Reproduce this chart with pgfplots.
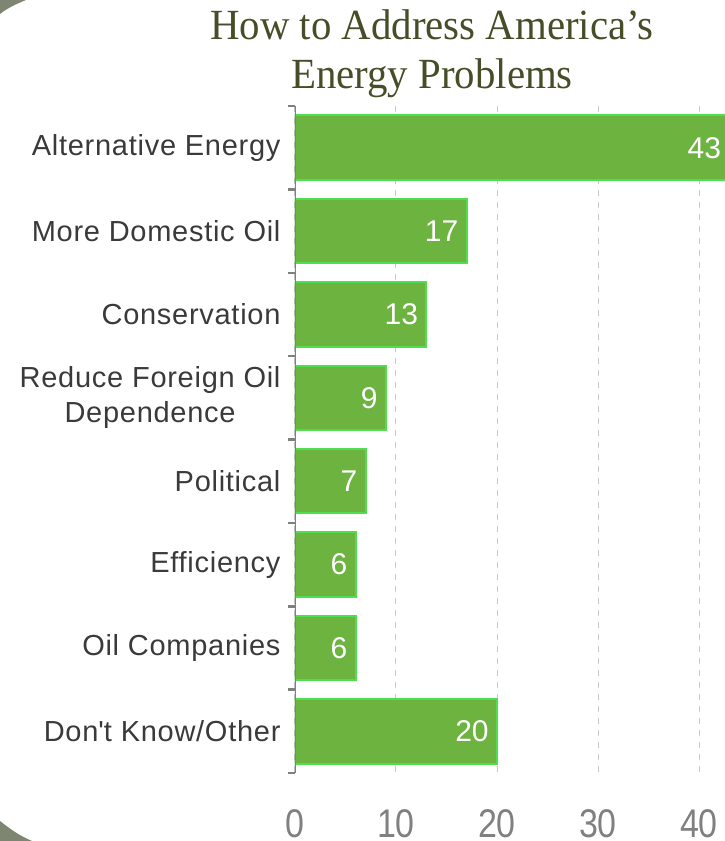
\documentclass[border=0pt]{standalone}
\usepackage{fontspec}
\usepackage{pgfplots}
\pgfplotsset{compat=1.18}
\setmainfont{Liberation Sans}
\newfontfamily\catfont{Liberation Sans}[LetterSpace=2.5]
\newfontfamily\tickfont{Liberation Sans}[FakeStretch=0.85]
\newfontfamily\titlefont{Liberation Serif}[FakeStretch=0.95]
\definecolor{barfill}{RGB}{108,179,63}
\definecolor{barline}{RGB}{78,222,78}
\definecolor{titlecol}{RGB}{70,78,40}
\definecolor{labcol}{RGB}{58,58,58}
\definecolor{axgray}{RGB}{128,128,128}
\definecolor{gridgray}{RGB}{200,200,200}
\definecolor{deco}{RGB}{126,134,114}
\begin{document}
\begin{tikzpicture}
\useasboundingbox (0,0) rectangle (725pt,841pt);
% slide corner decorations
\fill[deco] (0,841pt) -- (26pt,841pt) .. controls (16pt,837pt) and (6pt,832pt) .. (0,827pt) -- cycle;
\fill[deco] (0,0) -- (0,20pt) .. controls (10pt,12pt) and (20pt,5pt) .. (32pt,0) -- cycle;
% title
\node[anchor=base, font=\titlefont\fontsize{43}{49}\selectfont, text=titlecol, inner sep=0pt] at (432pt,801pt) {How to Address America’s};
\node[anchor=base, font=\titlefont\fontsize{43}{49}\selectfont, text=titlecol, inner sep=0pt] at (432pt,752pt) {Energy Problems};
\begin{axis}[
  at={(295pt,68pt)}, anchor=south west,
  scale only axis, width=505pt, height=667pt,
  xbar, bar width=64.6pt, bar shift=0pt,
  xmin=0, xmax=50, ymin=-0.5, ymax=7.5, y dir=reverse,
  axis lines*=left, axis line style={draw=none},
  major tick length=0pt,
  xtick={0,10,20,30,40}, xticklabels={0,10,20,30,40},
  xticklabel style={font=\tickfont\fontsize{40}{40}\selectfont, text=axgray, anchor=base, yshift=-64pt},
  ytick={0,...,7},
  yticklabels={Alternative Energy, More Domestic Oil, Conservation, {Reduce Foreign Oil\\Dependence}, Political, Efficiency, Oil Companies, Don\textquotesingle t Know/Other},
  yticklabel style={font=\catfont\fontsize{29}{35}\selectfont, text=labcol, align=center, anchor=east, xshift=-11pt},
  extra y ticks={-0.5,0.5,...,7.5}, extra y tick labels={},
  extra y tick style={tick align=outside, major tick length=7pt, tick style={axgray, line width=2.5pt}},
  xmajorgrids, grid style={gridgray, line width=1pt, dash pattern=on 6pt off 6pt},
  /pgf/number format/assume math mode=true,
  nodes near coords,
  every node near coord/.append style={anchor=east, xshift=-4pt, font=\fontsize{30}{30}\selectfont, text=white},
]
\addplot[fill=barfill, draw=barline, line width=2pt] coordinates {(43,0) (17,1) (13,2) (9,3) (7,4) (6,5) (6,6) (20,7)};
\draw[axgray, line width=2.5pt] (rel axis cs:0,0) -- (rel axis cs:0,1);
\end{axis}
\end{tikzpicture}
\end{document}
